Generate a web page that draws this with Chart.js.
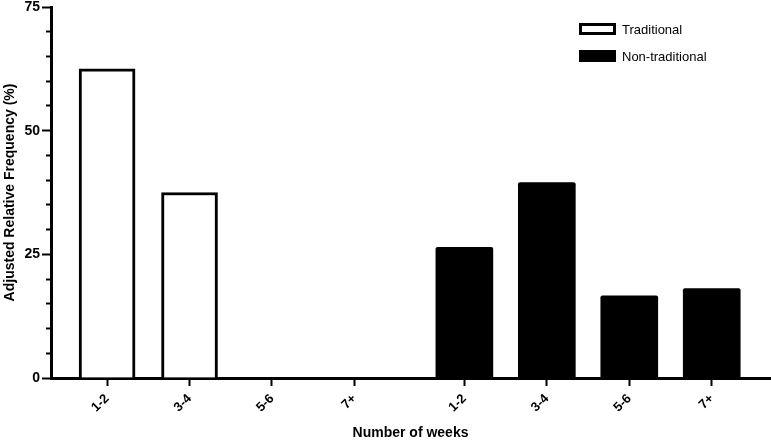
<!DOCTYPE html>
<html>
<head>
<meta charset="utf-8">
<script src="https://cdn.jsdelivr.net/npm/chart.js@4"></script>
<style>
  body { margin: 0; background: #fff; }
  #wrap { width: 771px; height: 440px; }
</style>
</head>
<body>
<div id="wrap"><canvas id="chart"></canvas></div>
<script>
const weeks = ["1-2", "3-4", "5-6", "7+"];
const groups = ["Traditional", "Non-traditional"];
const traditional = [62.5, 37.5, 0, 0];
const nonTraditional = [26.4, 39.5, 16.6, 18.1];
const yTicks = [0, 25, 50, 75];
const yMinorStep = 5;

const groupGap = 1 / 3; // small space between the two data sets
const fontFamily = "'Liberation Sans Narrow', 'Arial Narrow', 'Liberation Sans', Arial, sans-serif";

function pos(group, i) {
  return group * (weeks.length + groupGap) + i;
}

let xPositions = [];
let xLabels = [];
for (let g = 0; g < groups.length; g++) {
  for (let i = 0; i < weeks.length; i++) {
    xPositions.push(pos(g, i));
    xLabels.push(weeks[i]);
  }
}

Chart.defaults.font.family = fontFamily;
Chart.defaults.color = "#000";

// legend boxes in the top right, stacked like the original
const legendBoxes = {
  id: "legendBoxes",
  afterDraw(chart) {
    let ctx = chart.ctx;
    ctx.save();
    ctx.font = "13px " + fontFamily;
    ctx.textBaseline = "middle";
    chart.data.datasets.forEach((ds, i) => {
      let bx = 579, by = 23 + i * 27, bw = 37, bh = 12;
      ctx.fillStyle = ds.backgroundColor;
      ctx.fillRect(bx, by, bw, bh);
      ctx.lineWidth = 3;
      ctx.strokeStyle = "#000";
      ctx.strokeRect(bx + 1.5, by + 1.5, bw - 3, bh - 3);
      ctx.fillStyle = "#000";
      ctx.fillText(ds.label, 622, by + bh / 2 + 1);
    });
    ctx.restore();
  }
};

let ctxChart = new Chart(document.getElementById("chart"), {
  type: "bar",
  data: {
    datasets: [
      {
        label: groups[0],
        data: traditional.map((v, i) => ({ x: pos(0, i), y: v })),
        backgroundColor: "#ffffff",
        borderColor: "#000000",
        borderWidth: 3,
        barThickness: 56,
        grouped: false,
      },
      {
        label: groups[1],
        data: nonTraditional.map((v, i) => ({ x: pos(1, i), y: v })),
        backgroundColor: "#000000",
        borderColor: "#000000",
        borderWidth: 0,
        borderRadius: 2,
        barThickness: 57,
        grouped: false,
      },
    ],
  },
  options: {
    responsive: true,
    maintainAspectRatio: false,
    animation: false,
    layout: { padding: { top: 0, right: 1, left: 0, bottom: 0 } },
    plugins: {
      legend: { display: false },
      tooltip: { enabled: false },
    },
    scales: {
      x: {
        type: "linear",
        offset: false,
        min: -0.68,
        max: 8.04,
        afterBuildTicks: (s) => {
          s.ticks = xPositions.map((v) => ({ value: v }));
        },
        afterFit: (s) => {
          s.height = 62;
        },
        border: { color: "#000", width: 3 },
        grid: { offset: false, drawOnChartArea: false, tickLength: 8, tickWidth: 2, tickColor: "#000" },
        ticks: {
          autoSkip: false,
          minRotation: 45,
          maxRotation: 45,
          padding: 5,
          font: { size: 13, weight: "bold" },
          callback: (v, i) => xLabels[i],
        },
        title: {
          display: true,
          text: "Number of weeks",
          font: { size: 14, weight: "bold", lineHeight: 1 },
          padding: 0,
        },
      },
      y: {
        min: 0,
        max: 75,
        weight: 1,
        afterBuildTicks: (s) => {
          s.ticks = yTicks.map((v) => ({ value: v }));
        },
        afterFit: (s) => {
          s.width = 51;
          s.paddingTop = 7;
        },
        border: { color: "#000", width: 3, z: 1 },
        grid: { drawOnChartArea: false, tickLength: 9, tickWidth: 2, tickColor: "#000" },
        ticks: { padding: 2, font: { size: 14, weight: "bold" } },
        title: {
          display: true,
          text: "Adjusted Relative Frequency (%)",
          font: { size: 14, weight: "bold" },
          padding: 2,
        },
      },
      // short minor ticks every 5, no labels
      yMinor: {
        position: "left",
        weight: 0,
        min: 0,
        max: 75,
        afterBuildTicks: (s) => {
          let t = [];
          for (let v = 0; v <= 75; v += yMinorStep) {
            if (!yTicks.includes(v)) t.push({ value: v });
          }
          s.ticks = t;
        },
        afterFit: (s) => {
          s.width = 0;
          s.paddingTop = 0;
        },
        border: { display: false },
        grid: { drawOnChartArea: false, tickLength: 5, tickWidth: 2, tickColor: "#000" },
        ticks: { display: false },
      },
    },
  },
  plugins: [legendBoxes],
});
</script>
</body>
</html>
